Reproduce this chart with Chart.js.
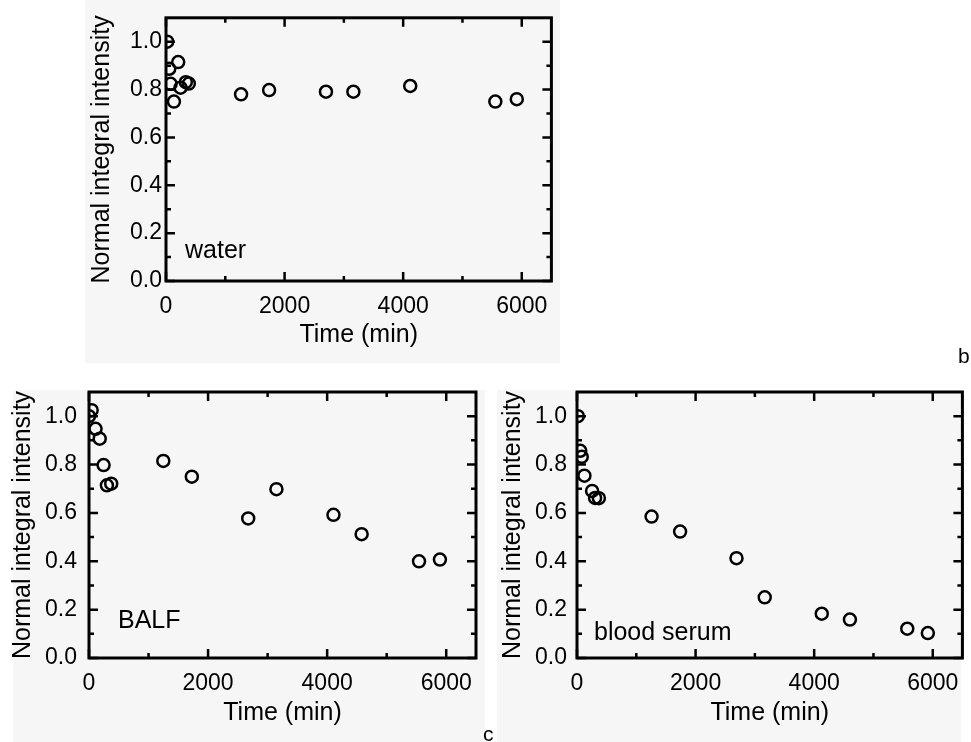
<!DOCTYPE html>
<html>
<head>
<meta charset="utf-8">
<script src="https://cdn.jsdelivr.net/npm/chart.js@4.4.1/dist/chart.umd.min.js"></script>
<style>
  body { margin: 0; width: 971px; height: 742px; background: #fff; position: relative; overflow: hidden; font-family: "Liberation Sans", Arial, sans-serif; }
  .bg { position: absolute; background: #f6f6f6; }
  canvas { position: absolute; }
  .tag { position: absolute; font-size: 21px; color: #000; line-height: 1; }
</style>
</head>
<body>
<div class="bg" style="left:85px;top:0;width:475px;height:363px"></div>
<div class="bg" style="left:13px;top:390px;width:472px;height:352px"></div>
<div class="bg" style="left:497px;top:390px;width:464px;height:352px"></div>

<canvas id="waterChart" width="560" height="363" style="left:0;top:0"></canvas>
<canvas id="balfChart" width="490" height="379" style="left:0;top:363px"></canvas>
<canvas id="serumChart" width="481" height="379" style="left:490px;top:363px"></canvas>

<div class="tag" style="left:958px;top:345px">b</div>
<div class="tag" style="left:483px;top:723px">c</div>

<script>
// Time points (min) and normalised integral intensity
const timeWater = [20, 55, 78, 134, 206, 245, 334, 385, 1266, 1739, 2698, 3160, 4119, 5554, 5916];
const intensityWater = [1.0, 0.887, 0.824, 0.750, 0.915, 0.808, 0.831, 0.825, 0.780, 0.798, 0.791, 0.791, 0.815, 0.750, 0.760];

const timeBalf = [0, 45, 110, 180, 245, 301, 373, 1248, 1727, 2674, 3148, 4106, 4579, 5543, 5894];
const intensityBalf = [1.0, 1.025, 0.948, 0.907, 0.798, 0.714, 0.721, 0.815, 0.750, 0.577, 0.698, 0.592, 0.512, 0.400, 0.407];

const timeSerum = [15, 55, 80, 125, 255, 305, 369, 1258, 1739, 2690, 3166, 4128, 4603, 5570, 5917];
const intensitySerum = [1.0, 0.857, 0.832, 0.754, 0.691, 0.662, 0.661, 0.585, 0.523, 0.413, 0.251, 0.183, 0.159, 0.121, 0.103];

// Axis ticks
const xTicks = [0, 2000, 4000, 6000];
const xMinorTicks = [1000, 3000, 5000];
const yTicks = [0, 0.2, 0.4, 0.6, 0.8, 1.0];
const yMinorTicks = [0.1, 0.3, 0.5, 0.7, 0.9];

const FONT = '"Liberation Sans", Arial, sans-serif';

// frame box with inward ticks on all four sides
const framePlugin = {
    id: 'frame',
    afterDatasetsDraw(chart) {
        const { ctx, chartArea: a, scales: { x, y } } = chart;
        ctx.save();
        ctx.strokeStyle = '#000';
        ctx.lineWidth = 2.5;
        ctx.beginPath();
        xTicks.forEach(v => {
            const px = x.getPixelForValue(v);
            ctx.moveTo(px, a.bottom); ctx.lineTo(px, a.bottom - 9);
            ctx.moveTo(px, a.top); ctx.lineTo(px, a.top + 9);
        });
        xMinorTicks.forEach(v => {
            const px = x.getPixelForValue(v);
            ctx.moveTo(px, a.bottom); ctx.lineTo(px, a.bottom - 5);
            ctx.moveTo(px, a.top); ctx.lineTo(px, a.top + 5);
        });
        yTicks.forEach(v => {
            const py = y.getPixelForValue(v);
            ctx.moveTo(a.left, py); ctx.lineTo(a.left + 9, py);
            ctx.moveTo(a.right, py); ctx.lineTo(a.right - 9, py);
        });
        yMinorTicks.forEach(v => {
            const py = y.getPixelForValue(v);
            ctx.moveTo(a.left, py); ctx.lineTo(a.left + 5, py);
            ctx.moveTo(a.right, py); ctx.lineTo(a.right - 5, py);
        });
        ctx.stroke();
        ctx.lineWidth = 3;
        ctx.strokeRect(a.left, a.top, a.right - a.left, a.bottom - a.top);

        // sample name inside the plot
        const tag = chart.options.plugins.frame;
        ctx.fillStyle = '#000';
        ctx.font = '25px ' + FONT;
        ctx.textBaseline = 'alphabetic';
        ctx.fillText(tag.text, a.left + tag.dx, a.bottom - tag.dy);
        ctx.restore();
    }
};

function makeChart(id, times, values, cfg) {
    const ctx = document.getElementById(id).getContext('2d');
    return new Chart(ctx, {
        type: 'scatter',
        data: {
            datasets: [{
                data: times.map((t, i) => ({ x: t, y: values[i] })),
                pointStyle: 'circle',
                pointRadius: 6,
                pointBorderWidth: 2.5,
                pointBorderColor: '#000',
                pointBackgroundColor: 'rgba(0,0,0,0)',
                clip: 0
            }]
        },
        options: {
            responsive: false,
            animation: false,
            layout: { padding: cfg.padding },
            plugins: {
                legend: { display: false },
                tooltip: { enabled: false },
                frame: { text: cfg.label, dx: cfg.labelDx, dy: cfg.labelDy }
            },
            scales: {
                x: {
                    type: 'linear',
                    min: 0,
                    max: 6500,
                    grid: { display: false, drawTicks: false },
                    border: { display: false },
                    afterBuildTicks: s => { s.ticks = xTicks.map(v => ({ value: v })); },
                    afterFit: s => { s.height = cfg.xHeight; },
                    ticks: {
                        color: '#000',
                        padding: 12,
                        maxRotation: 0,
                        font: { family: FONT, size: 23 },
                        callback: v => String(v)
                    },
                    title: {
                        display: true,
                        text: 'Time (min)',
                        color: '#000',
                        font: { family: FONT, size: 25 },
                        padding: { top: 0, bottom: cfg.xTitlePad }
                    }
                },
                y: {
                    type: 'linear',
                    min: 0,
                    max: 1.1,
                    grid: { display: false, drawTicks: false },
                    border: { display: false },
                    afterBuildTicks: s => { s.ticks = yTicks.map(v => ({ value: v })); },
                    afterFit: s => { s.width = cfg.yWidth; },
                    ticks: {
                        color: '#000',
                        padding: cfg.yTickPad,
                        font: { family: FONT, size: 23 },
                        callback: v => v.toFixed(1)
                    },
                    title: {
                        display: true,
                        text: 'Normal integral intensity',
                        color: '#000',
                        font: { family: FONT, size: 25 },
                        padding: { top: cfg.yTitlePad, bottom: 0 }
                    }
                }
            }
        },
        plugins: [framePlugin]
    });
}

makeChart('waterChart', timeWater, intensityWater, {
    padding: { left: 0, top: 14, right: 7, bottom: 0 },
    yWidth: 166, xHeight: 82, yTickPad: 4, yTitlePad: 87, xTitlePad: 13,
    label: 'water', labelDx: 19, labelDy: 23
});

makeChart('balfChart', timeBalf, intensityBalf, {
    padding: { left: 0, top: 29, right: 14, bottom: 0 },
    yWidth: 89, xHeight: 84, yTickPad: 12, yTitlePad: 8, xTitlePad: 14,
    label: 'BALF', labelDx: 29, labelDy: 30
});

makeChart('serumChart', timeSerum, intensitySerum, {
    padding: { left: 0, top: 29, right: 8, bottom: 0 },
    yWidth: 87, xHeight: 84, yTickPad: 10, yTitlePad: 8, xTitlePad: 14,
    label: 'blood serum', labelDx: 17, labelDy: 18
});
</script>
</body>
</html>
